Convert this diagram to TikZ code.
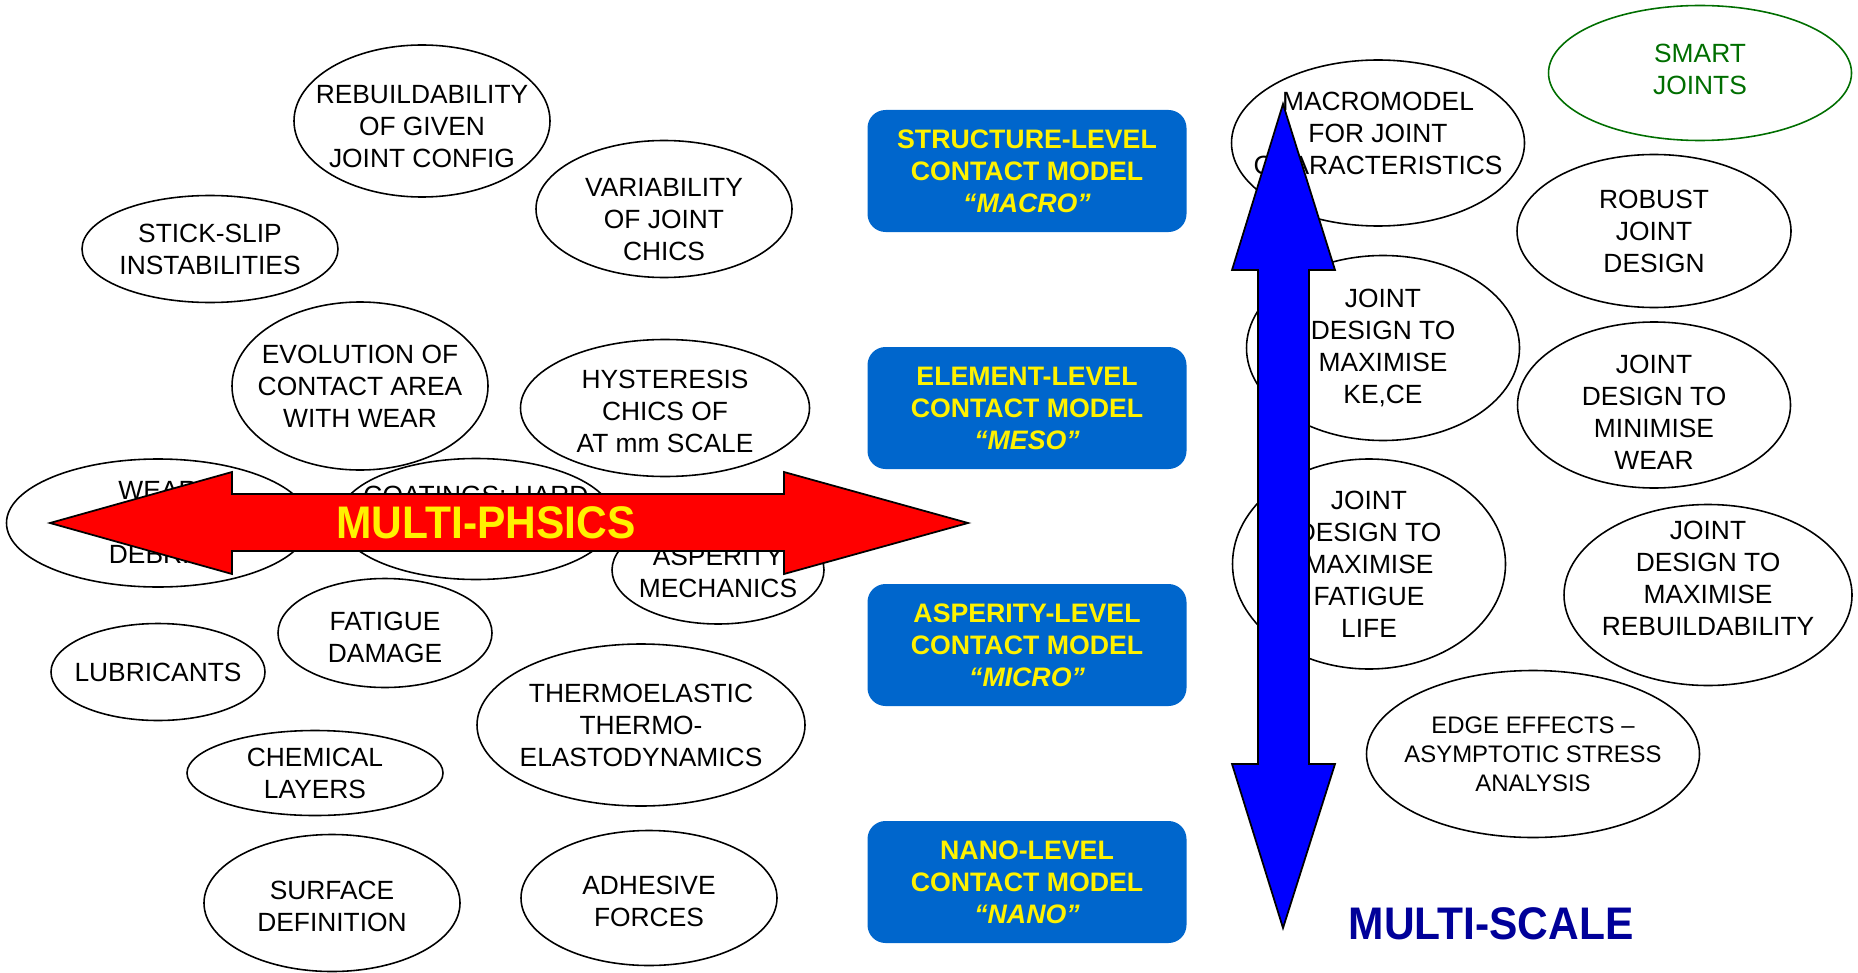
\documentclass[tikz,border=0pt]{standalone}
\usepackage{fontspec}
\setmainfont{Liberation Sans}
\usetikzlibrary{shapes}
\usetikzlibrary{positioning}

\definecolor{boxblue}{RGB}{0,102,204}
\definecolor{smartgreen}{RGB}{0,110,0}
\definecolor{scalenavy}{RGB}{0,0,153}

\begin{document}
\begin{tikzpicture}[x=0.1mm, y=-0.1mm]
	\tikzset{bubble/.style 2 args = {shape=ellipse, draw, line width=0.45pt,
			inner sep=0pt, minimum width=#1, minimum height=#2}}
	\tikzset{bubtext/.style = {align=center, inner sep=0pt,
			font=\fontsize{7.5}{9.1}\selectfont}}
	\tikzset{level/.style = {shape=rectangle, rounded corners=1.8mm,
			fill=boxblue, text=yellow, align=center, inner sep=0pt,
			minimum width=31.9mm, minimum height=12.2mm,
			font=\bfseries\fontsize{7.6}{9.1}\selectfont}}
	\tikzset{bigarrow/.style = {draw=black, line width=0.5pt, line join=miter}}
	\tikzset{banner/.style = {inner sep=0pt,
			font=\bfseries\fontsize{13}{15}\selectfont}}

	\useasboundingbox (0,0) rectangle (1858,972);

	% physics bubbles
	\node[bubble={25.6mm}{15.2mm}, label={[bubtext, yshift=-0.6mm]center:{REBUILDABILITY\\OF GIVEN\\JOINT CONFIG}}] (rebuild) at (422,121) {};
	\node[bubble={25.6mm}{13.7mm}, label={[bubtext, yshift=-1.1mm]center:{VARIABILITY\\OF JOINT\\CHICS}}] (variab) at (664,209) {};
	\node[bubble={25.6mm}{10.7mm}, label={[bubtext]center:{STICK-SLIP\\INSTABILITIES}}] (stick) at (210,249) {};
	\node[bubble={25.6mm}{16.8mm}, label={[bubtext]center:{EVOLUTION OF\\CONTACT AREA\\WITH WEAR}}] (evol) at (360,386) {};
	\node[bubble={28.9mm}{13.7mm}, label={[bubtext, yshift=-0.35mm]center:{HYSTERESIS\\CHICS OF\\AT mm SCALE}}] (hyst) at (665,408) {};
	\node[bubble={30.3mm}{12.8mm}, label={[bubtext]center:{WEAR\\WITH\\DEBRIS}}] (wear) at (158,523) {};
	\node[bubble={27.5mm}{12.1mm}, label={[bubtext, yshift=2.2mm]center:{COATINGS; HARD}}] (coat) at (476,519) {};
	\node[bubble={21.2mm}{10.8mm}, label={[bubtext, yshift=-0.2mm]center:{ASPERITY\\MECHANICS}}] (asper) at (718,570) {};
	\node[bubble={21.4mm}{10.9mm}, label={[bubtext, yshift=-0.4mm]center:{FATIGUE\\DAMAGE}}] (fatigue) at (385,633) {};
	\node[bubble={21.4mm}{9.7mm}, label={[bubtext]center:{LUBRICANTS}}] (lubric) at (158,672) {};
	\node[bubble={32.8mm}{16.2mm}, label={[bubtext]center:{THERMOELASTIC\\THERMO-\\ELASTODYNAMICS}}] (thermo) at (641,725) {};
	\node[bubble={25.6mm}{8.5mm}, label={[bubtext]center:{CHEMICAL\\LAYERS}}] (chem) at (315,773) {};
	\node[bubble={25.6mm}{13.7mm}, label={[bubtext, yshift=-0.3mm]center:{SURFACE\\DEFINITION}}] (surface) at (332,903) {};
	\node[bubble={25.6mm}{13.5mm}, label={[bubtext, yshift=-0.3mm]center:{ADHESIVE\\FORCES}}] (adhes) at (649,898) {};

	% contact models
	\node[level] (macro) at (1027,171) {STRUCTURE-LEVEL\\CONTACT MODEL\\\textit{“MACRO”}};
	\node[level] (meso) at (1027,408) {ELEMENT-LEVEL\\CONTACT MODEL\\\textit{“MESO”}};
	\node[level] (micro) at (1027,645) {ASPERITY-LEVEL\\CONTACT MODEL\\\textit{“MICRO”}};
	\node[level] (nano) at (1027,882) {NANO-LEVEL\\CONTACT MODEL\\\textit{“NANO”}};

	% design bubbles
	\node[bubble={30.3mm}{13.5mm}, draw=smartgreen, label={[bubtext, text=smartgreen, yshift=0.4mm]center:{SMART\\JOINTS}}] (smart) at (1700,73) {};
	\node[bubble={29.3mm}{16.6mm}, label={[bubtext, yshift=0.95mm]center:{MACROMODEL\\FOR JOINT\\CHARACTERISTICS}}] (macromod) at (1378,143) {};
	\node[bubble={27.4mm}{15.3mm}, label={[bubtext]center:{ROBUST\\JOINT\\DESIGN}}] (robust) at (1654,231) {};
	\node[bubble={27.3mm}{18.5mm}, label={[bubtext]center:{JOINT\\DESIGN TO\\MAXIMISE\\KE,CE}}] (kece) at (1383,348) {};
	\node[bubble={27.3mm}{16.6mm}, label={[bubtext, yshift=-0.7mm]center:{JOINT\\DESIGN TO\\MINIMISE\\WEAR}}] (minwear) at (1654,405) {};
	\node[bubble={27.3mm}{21.0mm}, label={[bubtext]center:{JOINT\\DESIGN TO\\MAXIMISE\\FATIGUE\\LIFE}}] (fatlife) at (1369,564) {};
	\node[bubble={28.8mm}{18.1mm}, label={[bubtext, yshift=1.7mm]center:{JOINT\\DESIGN TO\\MAXIMISE\\REBUILDABILITY}}] (maxrebuild) at (1708,595) {};
	\node[bubble={33.3mm}{16.7mm}, label={[bubtext, font=\fontsize{6.8}{8.2}\selectfont]center:{EDGE EFFECTS –\\ASYMPTOTIC STRESS\\ANALYSIS}}] (edge) at (1533,754) {};

	% arrows
	\filldraw[bigarrow, fill=red] (50,523) -- (232,472) -- (232,494) -- (784,494)
		-- (784,472) -- (968,523) -- (784,574) -- (784,551) -- (232,551)
		-- (232,574) -- cycle;
	\node[banner, text=yellow] (physics) at (486,523) {\scalebox{0.93}[1]{MULTI-PHSICS}};

	\filldraw[bigarrow, fill=blue] (1283,104) -- (1335,270) -- (1309,270) -- (1309,764)
		-- (1335,764) -- (1283,928) -- (1232,764) -- (1258,764) -- (1258,270)
		-- (1232,270) -- cycle;
	\node[banner, text=scalenavy] (scale) at (1491,924) {\scalebox{0.93}[1]{MULTI-SCALE}};

\end{tikzpicture}
\end{document}
